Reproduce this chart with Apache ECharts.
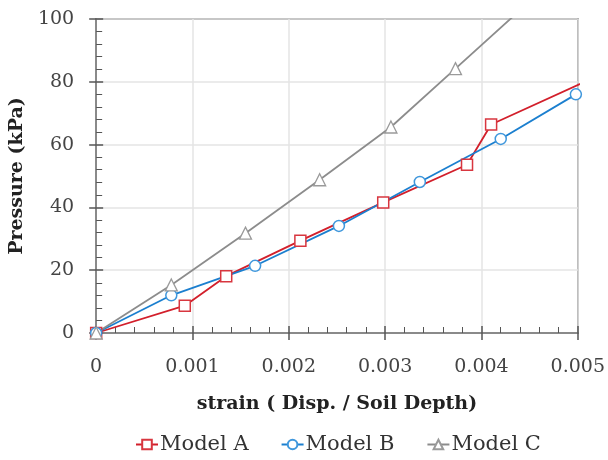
<!DOCTYPE html>
<html>
<head>
<meta charset="utf-8">
<script src="https://cdn.jsdelivr.net/npm/echarts@6/dist/echarts.min.js"></script>
<style>
  html, body { margin: 0; padding: 0; background: #fff; }
  #main { width: 608px; height: 460px; }
</style>
</head>
<body>
<div id="main"></div>
<script>
// strain vs pressure
var strainA = [0, 0.00092, 0.00135, 0.00212, 0.00298, 0.00385, 0.0041, 0.0055];
var pressA  = [0, 8.7, 18.1, 29.4, 41.6, 53.6, 66.4, 86];
var strainB = [0, 0.00078, 0.00165, 0.00252, 0.00336, 0.0042, 0.00498];
var pressB  = [0, 12.0, 21.4, 34.1, 48.1, 61.8, 76.0];
var strainC = [0, 0.00078, 0.00155, 0.00232, 0.00306, 0.00373, 0.0044];
var pressC  = [0, 15.3, 31.8, 48.8, 65.6, 84.2, 102.8];
var names = ['Model A', 'Model B', 'Model C'];
var xTicks = ['0', '0.001', '0.002', '0.003', '0.004', '0.005'];

var FONT = 'DejaVu Serif';

function pairs(xs, ys) {
  return xs.map(function (x, i) { return [x, ys[i]]; });
}

var chart = echarts.init(document.getElementById('main'), null, { renderer: 'canvas' });

var option = {
  animation: false,
  backgroundColor: '#fff',
  grid: {
    left: 96, right: 30, top: 19, bottom: 127,
    show: true, borderColor: '#444', borderWidth: 1.5
  },
  legend: {
    bottom: 0, left: 130, itemWidth: 22, itemHeight: 12, itemGap: 32,
    textStyle: { fontFamily: FONT, fontSize: 21, color: '#333', padding: [0, 0, 0, -3] },
    data: names
  },
  xAxis: [
    {
      type: 'value', position: 'bottom', min: 0, max: 0.005, interval: 0.001,
      name: 'strain ( Disp. / Soil Depth)', nameLocation: 'middle', nameGap: 62,
      nameTextStyle: { fontFamily: FONT, fontWeight: 'bold', fontSize: 19, color: '#222' },
      axisLine: { show: true, lineStyle: { color: '#8a8a8a', width: 2 } },
      axisTick: { show: true, inside: true, length: 7, lineStyle: { color: '#555', width: 1.5 } },
      minorTick: { show: true, splitNumber: 5, length: 6, lineStyle: { color: '#555', width: 1 } },
      axisLabel: {
        fontFamily: FONT, fontSize: 19, color: '#444', margin: 25,
        formatter: function (v) { return xTicks[Math.round(v / 0.001)]; }
      },
      splitLine: { show: true, lineStyle: { color: '#e4e4e4', width: 1.5 } }
    },
    {
      // outer half of the major ticks
      type: 'value', position: 'bottom', min: 0, max: 0.005, interval: 0.001,
      axisLine: { show: false },
      axisTick: { show: true, inside: false, length: 7, lineStyle: { color: '#555', width: 1.5 } },
      axisLabel: { show: false }, splitLine: { show: false }
    }
  ],
  yAxis: [
    {
      type: 'value', position: 'left', min: 0, max: 100, interval: 20,
      name: 'Pressure (kPa)', nameLocation: 'middle', nameGap: 68,
      nameTextStyle: { fontFamily: FONT, fontWeight: 'bold', fontSize: 19, color: '#222' },
      axisLine: { show: true, lineStyle: { color: '#8a8a8a', width: 2 } },
      axisTick: { show: true, inside: true, length: 7, lineStyle: { color: '#555', width: 1.5 } },
      minorTick: { show: true, splitNumber: 5, length: 6, lineStyle: { color: '#555', width: 1 } },
      axisLabel: { fontFamily: FONT, fontSize: 19, color: '#444', margin: 22 },
      splitLine: { show: true, lineStyle: { color: '#e4e4e4', width: 1.5 } }
    },
    {
      type: 'value', position: 'left', min: 0, max: 100, interval: 20,
      axisLine: { show: false },
      axisTick: { show: true, inside: false, length: 7, lineStyle: { color: '#555', width: 1.5 } },
      axisLabel: { show: false }, splitLine: { show: false }
    }
  ],
  series: [
    {
      name: names[0], type: 'line', clip: true,
      data: pairs(strainA, pressA),
      symbol: 'rect', symbolSize: 11,
      lineStyle: { color: '#d21f2b', width: 1.8 },
      itemStyle: { color: '#fff', borderColor: '#d8363f', borderWidth: 1.5 }
    },
    {
      name: names[1], type: 'line', clip: true,
      data: pairs(strainB, pressB),
      symbol: 'circle', symbolSize: 11,
      lineStyle: { color: '#1b7fcf', width: 1.8 },
      itemStyle: { color: '#fff', borderColor: '#3f97dc', borderWidth: 1.5 }
    },
    {
      name: names[2], type: 'line', clip: true,
      data: pairs(strainC, pressC),
      symbol: 'triangle', symbolSize: 12,
      lineStyle: { color: '#8c8c8c', width: 1.8 },
      itemStyle: { color: '#fff', borderColor: '#9a9a9a', borderWidth: 1.3 }
    }
  ]
};
chart.setOption(option);
</script>
</body>
</html>
